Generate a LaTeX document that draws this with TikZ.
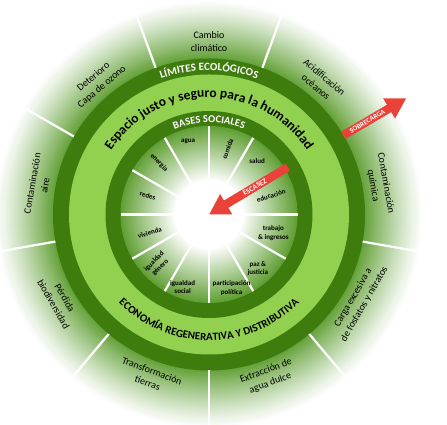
\documentclass[tikz,border=0pt]{standalone}
\usepackage{fontspec}
\setmainfont{Carlito}
\usetikzlibrary{arrows.meta,decorations.text}
\definecolor{verdeOsc}{RGB}{62,124,14}
\definecolor{verdeCla}{RGB}{146,208,80}
\definecolor{verdeMed}{RGB}{98,160,54}
\definecolor{rojoFle}{RGB}{234,66,56}
\tikzset{
  etiqEco/.style={font=\fontsize{10}{13}\selectfont, align=center, text=black},
  etiqSoc/.style={font=\fontsize{7}{8.5}\selectfont\bfseries, align=center, text=black, inner sep=0pt},
  separador/.style={white, line width=2.2pt},
  flecha/.style={rojoFle, line width=8.5pt, -{Triangle[length=20pt,width=22pt]}},
  textoFlecha/.style={font=\fontsize{7}{8}\selectfont\bfseries, text=white, sloped, inner sep=0pt}
}
\begin{document}
\begin{tikzpicture}[x=1pt,y=1pt]
  \useasboundingbox (0,0) rectangle (447,425);
  \begin{scope}[shift={(209,210.5)}]
    \coordinate (centro) at (0,0);
    % degradado exterior
    \foreach \r in {214,212,...,156} {
      \pgfmathtruncatemacro\pct{100*((216-\r)/60)^1.2}
      \fill[verdeMed!\pct!white] (centro) circle (\r);
    }
    % anillos
    \fill[verdeOsc] (centro) circle (156);
    \fill[verdeCla] (centro) circle (140);
    \fill[verdeOsc] (centro) circle (103.5);
    % degradado interior
    \foreach \r in {88.5,87.5,...,1} {
      \pgfmathtruncatemacro\pct{max(0,min(100,100*(\r-34)/54))}
      \fill[verdeMed!\pct!white] (centro) circle (\r);
    }
    % separadores
    \foreach \a in {30,70,...,350} \draw[separador] (\a:156) -- (\a:212);
    \foreach \a in {0,30,...,330} \draw[separador] (\a:36) -- (\a:88.5);
    % textos curvos
    \path[decorate, decoration={text along path, text align=center, text color=white,
      text={|\fontsize{11}{12}\selectfont\bfseries|LÍMITES ECOLÓGICOS}}] (150:144) arc (150:30:144);
    \path[decorate, decoration={text along path, text align=center, text color=black,
      text={|\fontsize{13.5}{15}\selectfont\bfseries|Espacio justo y seguro para la humanidad}}] (175:117) arc (175:5:117);
    \path[decorate, decoration={text along path, text align=center, text color=white,
      text={|\fontsize{10.5}{12}\selectfont\bfseries|BASES SOCIALES}}] (150:92) arc (150:30:92);
    \path[decorate, decoration={text along path, text align=center, text color=black,
      text={|\fontsize{11}{13}\selectfont\bfseries|ECONOMÍA REGENERATIVA Y DISTRIBUTIVA}}] (190:126) arc (190:350:126);
    % limites ecologicos
    \foreach \a/\rot/\txt/\nom in {90/0/{Cambio\\climático}/cambio,
        50/-40/{Acidificación\\océanos}/acidif,
        10/-80/{Contaminación\\química}/quimica,
        -30/60/{Carga excesiva a\\de fosfatos y nitratos}/fosfatos,
        -70/20/{Extracción de\\agua dulce}/aguadulce,
        -110/-20/{Transformación\\tierras}/tierras,
        -150/-60/{Pérdida\\biodiversidad}/biodiv,
        170/80/{Contaminación\\aire}/aire,
        130/40/{Deterioro\\Capa de ozono}/ozono}
      \node[etiqEco, rotate=\rot] (\nom) at (\a:173) {\txt};
    % bases sociales
    \foreach \a/\r/\rot/\txt/\nom in {106/76/0/agua/agua,
        74/68/70/comida/comida,
        48/72/0/salud/salud,
        17/65/17/educación/educacion,
        -16/67/0/{trabajo\\\& ingresos}/trabajo,
        -48/73/0/{paz \&\\justicia}/paz,
        -73/77/0/{participación\\política}/politica,
        -110/77/0/{igualdad\\social}/social,
        -136/72/45/{igualdad\\género}/genero,
        -163/62/17/vivienda/vivienda,
        163/64/-17/redes/redes,
        134/72/-46/energía/energia}
      \node[etiqSoc, rotate=\rot] (\nom) at (\a:\r) {\txt};
    % flechas
    \coordinate (sobIni) at (30.5:156);
    \coordinate (sobFin) at (30.5:229);
    \coordinate (escIni) at (31:92);
    \draw[flecha] (sobIni) -- (sobFin) node[textoFlecha, pos=0.38] (sobTxt) {SOBRECARGA};
    \draw[flecha] (escIni) -- (centro) node[textoFlecha, pos=0.42, font=\fontsize{7.5}{8}\selectfont\bfseries] (escTxt) {ESCASEZ};
  \end{scope}
\end{tikzpicture}
\end{document}
